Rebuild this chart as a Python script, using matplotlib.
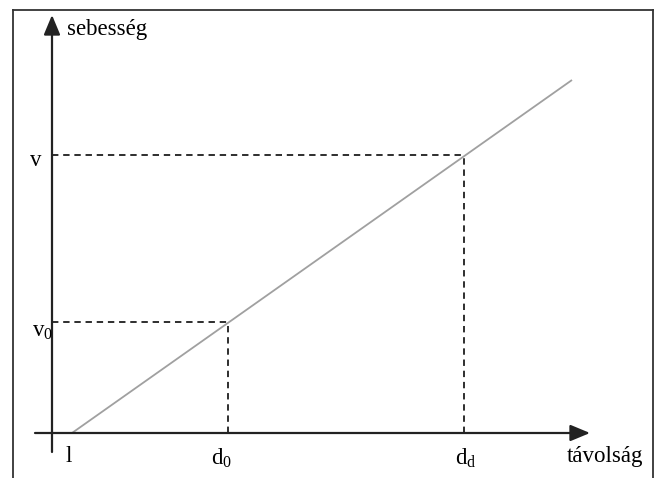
import matplotlib
matplotlib.use('Agg')
import matplotlib.pyplot as plt
from matplotlib.lines import Line2D

# distance / speed values (1 unit = 20 px)
line_x = [1.0, 26.0]          # l ... end of the grey line
line_y = [0.0, 17.65]
d_vals = [8.8, 20.6]          # d0, dd
v_vals = [5.55, 13.9]         # v0, v
x_axis = [-0.85, 26.9]        # x axis from / arrow tip
y_axis = [-0.95, 20.9]        # y axis from / arrow tip

plt.rcParams['font.family'] = ['Liberation Serif', 'DejaVu Serif']
plt.rcParams['mathtext.fontset'] = 'custom'
plt.rcParams['mathtext.rm'] = 'Liberation Serif'
plt.rcParams['mathtext.it'] = 'Liberation Serif:italic'

fig = plt.figure(figsize=(6.55, 4.78), dpi=100)
ax = fig.add_axes([0, 0, 1, 1])
ax.set_xlim(-2.6, 30.15)
ax.set_ylim(-2.25, 21.65)
ax.set_axis_off()

# frame around the whole sketch (open at the bottom)
fr = dict(color='#333333', lw=1.3, transform=fig.transFigure)
fig.add_artist(Line2D([13 / 655, 13 / 655], [0, 1 - 10 / 478], **fr))
fig.add_artist(Line2D([13 / 655, 653 / 655], [1 - 10 / 478, 1 - 10 / 478], **fr))
fig.add_artist(Line2D([653 / 655, 653 / 655], [0, 1 - 10 / 478], **fr))

# axes with arrows
arr = dict(arrowstyle='-|>,head_length=0.6,head_width=0.25', mutation_scale=20,
           color='#222222', lw=1.6, shrinkA=0, shrinkB=0)
ax.annotate('', xy=(x_axis[1], 0), xytext=(x_axis[0], 0), arrowprops=arr)
ax.annotate('', xy=(0, y_axis[1]), xytext=(0, y_axis[0]), arrowprops=arr)

# speed vs distance line
ax.plot(line_x, line_y, color='#a0a0a0', lw=1.3, solid_capstyle='butt')

# dashed guides
for d, v in zip(d_vals, v_vals):
    ax.plot([0, d], [v, v], color='black', lw=1.15, linestyle=(0, (4, 3)))
    ax.plot([d, d], [0, v], color='black', lw=1.15, linestyle=(0, (4, 3)))

fs = 16.5
ax.text(0.75, 19.9, 'sebesség', fontsize=fs, ha='left', va='baseline')
ax.text(25.75, -1.45, 'távolság', fontsize=fs, ha='left', va='baseline')
ax.text(0.85, -1.45, 'l', fontsize=fs, ha='center', va='baseline')
ax.text(7.95, -1.6, r'd$_0$', fontsize=fs, ha='left', va='baseline')
ax.text(20.15, -1.6, r'd$_\mathrm{d}$', fontsize=fs, ha='left', va='baseline')
ax.text(-0.5, 13.35, 'v', fontsize=fs, ha='right', va='baseline')
ax.text(-1.0, 4.8, r'v$_0$', fontsize=fs, ha='left', va='baseline')

fig.savefig('out.png', dpi=100)
